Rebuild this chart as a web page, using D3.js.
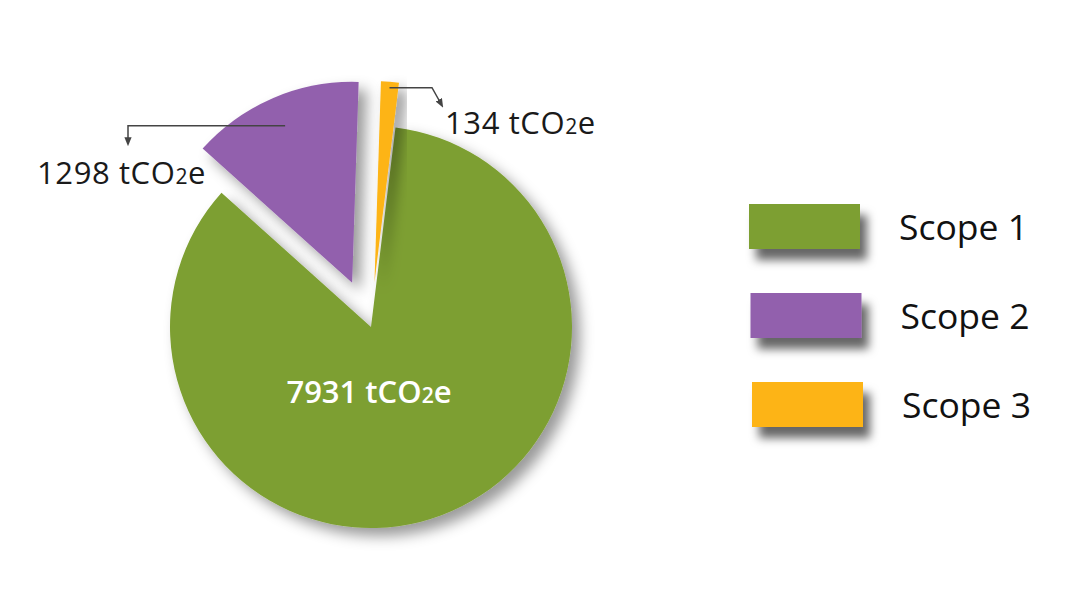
<!DOCTYPE html>
<html>
<head>
<meta charset="utf-8">
<script src="https://cdn.jsdelivr.net/npm/d3@7"></script>
<style>
  body { margin: 0; background: #fff; }
  svg { display: block; font-family: "Open Sans", sans-serif; }
</style>
</head>
<body>
<svg width="1087" height="607"></svg>
<script>
const categories = ["Scope 1", "Scope 2", "Scope 3"];
const values = [7931, 1298, 134];
const unit = ["tCO", "2", "e"];
const colors = ["#7d9f31", "#9260ad", "#fdb414"];

const svg = d3.select("svg");
const cx = 371, cy = 327, radius = 201;
const rot = 7 * Math.PI / 180;

const defs = svg.append("defs");
const shadow = defs.append("filter")
  .attr("id", "shadow")
  .attr("x", "-30%").attr("y", "-30%")
  .attr("width", "160%").attr("height", "160%");
shadow.append("feDropShadow")
  .attr("dx", 8).attr("dy", 8)
  .attr("stdDeviation", 7)
  .attr("flood-color", "#000")
  .attr("flood-opacity", 0.4);

const legShadow = defs.append("filter")
  .attr("id", "legShadow")
  .attr("x", "-30%").attr("y", "-50%")
  .attr("width", "160%").attr("height", "220%");
legShadow.append("feDropShadow")
  .attr("dx", 7).attr("dy", 11)
  .attr("stdDeviation", 5)
  .attr("flood-color", "#000")
  .attr("flood-opacity", 0.6);

defs.append("marker")
  .attr("id", "arrow")
  .attr("viewBox", "0 0 10 10")
  .attr("refX", 5).attr("refY", 5)
  .attr("markerWidth", 6).attr("markerHeight", 6)
  .attr("orient", "auto")
  .append("path")
  .attr("d", "M0,1L10,5L0,9Z")
  .attr("fill", "#444");

defs.append("clipPath").attr("id", "legClip")
  .append("rect").attr("x", 700).attr("y", 0).attr("width", 339).attr("height", 607);

const pie = d3.pie().sort(null).value(d => d)
  .startAngle(rot).endAngle(rot + 2 * Math.PI)(values);
const arc = d3.arc().innerRadius(0).outerRadius(radius);

// exploded slices: Scope 2 and 3 pulled out
const explode = d => d.index === 0 ? 0 : (d.index === 1 ? 48 : 45);
const offset = d => {
  const a = (d.startAngle + d.endAngle) / 2;
  const e = explode(d);
  return [Math.sin(a) * e, -Math.cos(a) * e];
};
const pointOn = (d, k) => {
  const a = (d.startAngle + d.endAngle) / 2;
  const o = offset(d);
  return [o[0] + Math.sin(a) * radius * k, o[1] - Math.cos(a) * radius * k];
};

const g = svg.append("g").attr("transform", `translate(${cx},${cy})`);

g.selectAll("path.slice")
  .data(pie)
  .join("path")
  .attr("class", "slice")
  .attr("transform", d => `translate(${offset(d)})`)
  .attr("d", arc)
  .attr("fill", (d, i) => colors[i])
  .attr("filter", "url(#shadow)");

const addLabel = (sel, v) => {
  sel.append("tspan").text(`${v} ${unit[0]}`);
  sel.append("tspan").attr("font-size", "68%").text(unit[1]);
  sel.append("tspan").text(unit[2]);
};

// main value inside the big slice
g.append("text")
  .attr("x", -2)
  .attr("y", 76)
  .attr("text-anchor", "middle")
  .attr("fill", "#fff")
  .attr("font-size", 31)
  .attr("font-weight", 600)
  .call(addLabel, values[0]);

// leader line for Scope 2 (to the left)
const s2 = pointOn(pie[1], 0.85);
const lx2 = -243;
g.append("path")
  .attr("d", d3.line()([s2, [lx2, s2[1]], [lx2, s2[1] + 16]]))
  .attr("fill", "none")
  .attr("stroke", "#444")
  .attr("stroke-width", 1.5)
  .attr("marker-end", "url(#arrow)");
g.append("text")
  .attr("x", -334)
  .attr("y", -143)
  .attr("fill", "#1a1a1a")
  .attr("font-size", 31)
  .attr("letter-spacing", 0.6)
  .call(addLabel, values[1]);

// leader line for Scope 3 (to the right)
const s3 = pointOn(pie[2], 0.97);
g.append("path")
  .attr("d", d3.line()([s3, [61, s3[1]], [70, s3[1] + 16]]))
  .attr("fill", "none")
  .attr("stroke", "#444")
  .attr("stroke-width", 1.5)
  .attr("marker-end", "url(#arrow)");
g.append("text")
  .attr("x", 74)
  .attr("y", -193)
  .attr("fill", "#1a1a1a")
  .attr("font-size", 31)
  .attr("letter-spacing", 0.6)
  .call(addLabel, values[2]);

// legend
const legend = svg.append("g").attr("clip-path", "url(#legClip)");
const rows = legend.selectAll("g")
  .data(categories)
  .join("g")
  .attr("transform", (d, i) => `translate(${749 + i * 1.5},${204 + i * 89})`);
rows.append("rect")
  .attr("width", 111)
  .attr("height", 45)
  .attr("fill", (d, i) => colors[i])
  .attr("filter", "url(#legShadow)");
rows.append("text")
  .attr("x", 150)
  .attr("y", 36)
  .attr("font-size", 35.5)
  .attr("fill", "#111")
  .text(d => d);
</script>
</body>
</html>
